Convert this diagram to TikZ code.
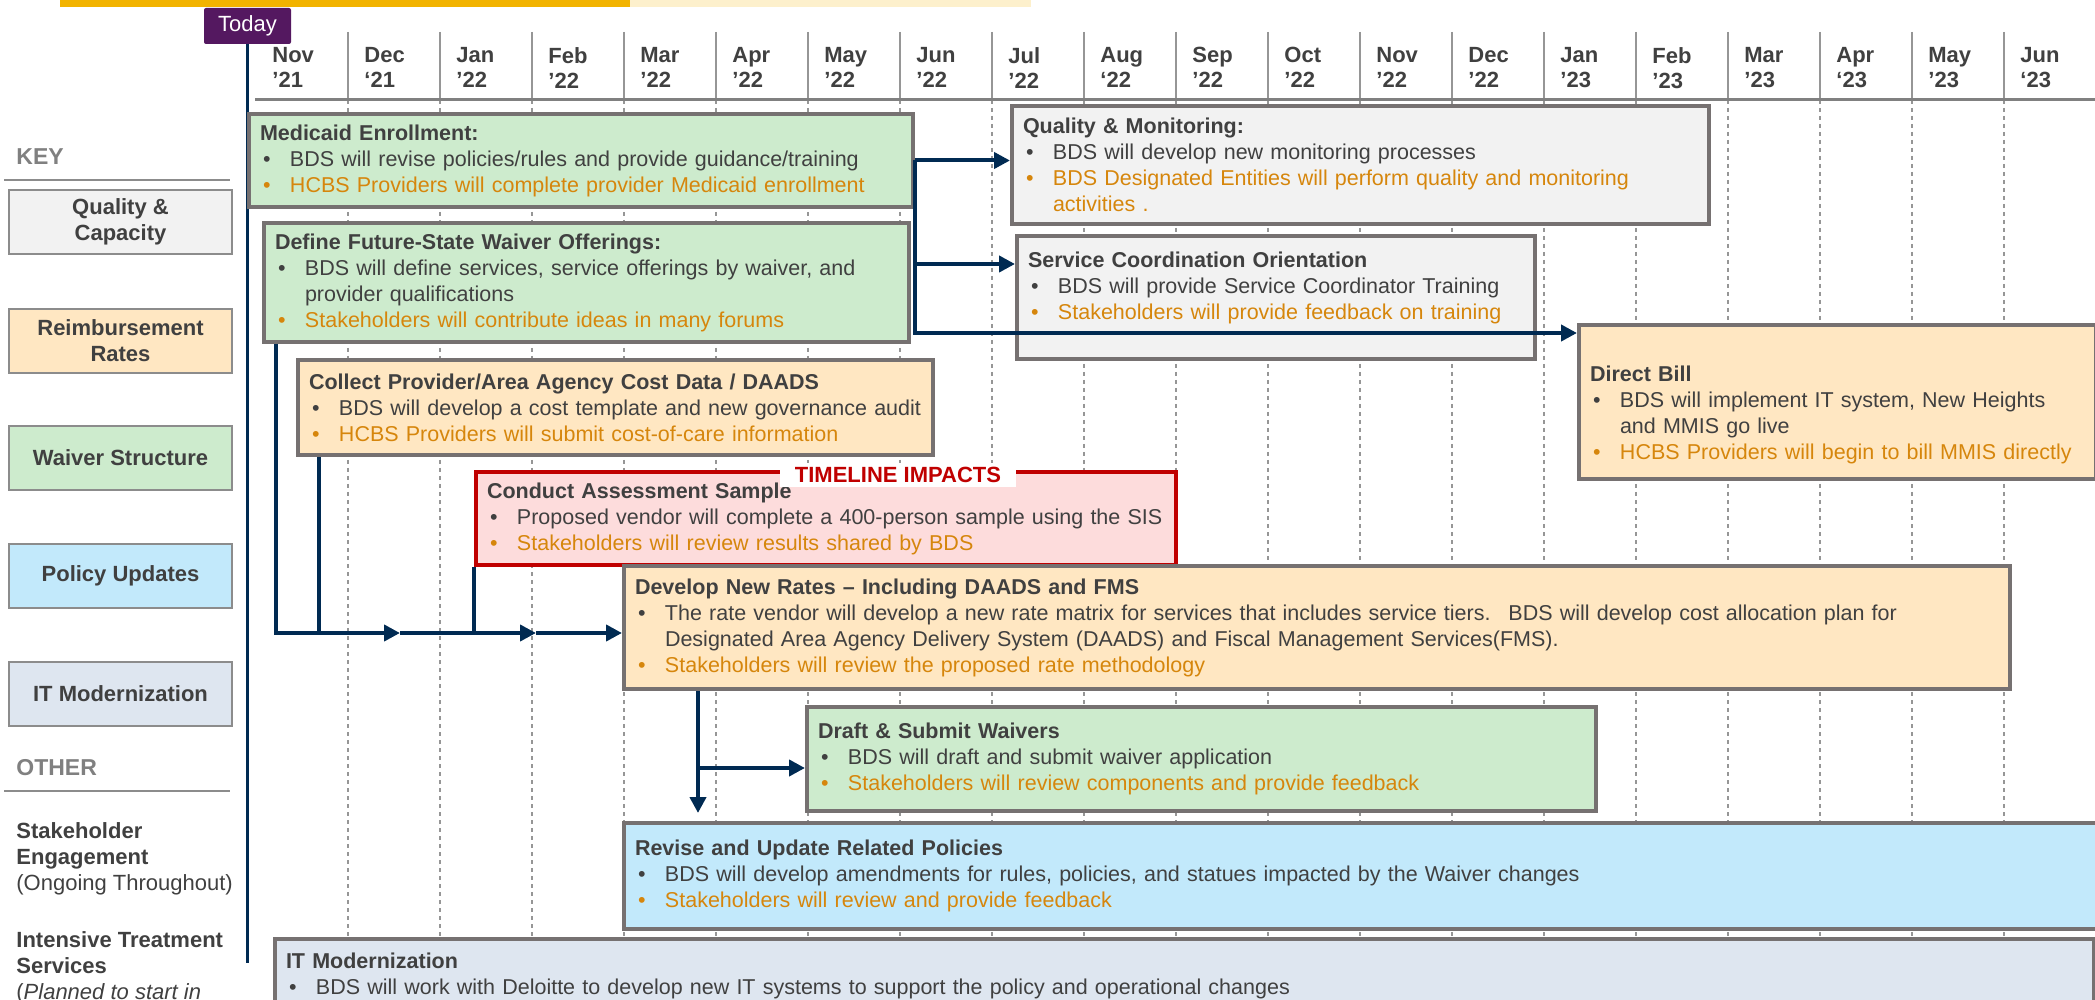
\documentclass[tikz,border=0pt]{standalone}
\usepackage{fontspec}
\setmainfont{Liberation Sans}
\usetikzlibrary{arrows.meta, positioning, calc}

\definecolor{txtgray}{RGB}{64,64,64}
\definecolor{ornge}{RGB}{214,134,12}
\definecolor{navy}{RGB}{0,42,82}
\definecolor{boxgray}{RGB}{118,113,113}
\definecolor{keyline}{RGB}{140,140,140}
\definecolor{headgray}{RGB}{128,128,128}
\definecolor{qualfill}{RGB}{242,242,242}
\definecolor{ratefill}{RGB}{255,231,194}
\definecolor{waivfill}{RGB}{205,235,205}
\definecolor{polfill}{RGB}{194,233,251}
\definecolor{itfill}{RGB}{222,230,240}
\definecolor{riskfill}{RGB}{253,220,220}
\definecolor{riskred}{RGB}{192,0,0}
\definecolor{todaypurple}{RGB}{84,24,96}
\definecolor{topgold}{RGB}{242,179,0}
\definecolor{toplight}{RGB}{253,240,204}
\definecolor{gridgray}{RGB}{150,150,150}

\newcommand{\ttl}[1]{\noindent{\bfseries #1}\par}
\newcommand{\itm}[1]{\hangindent=15pt\hangafter=1\noindent\makebox[15pt][l]{\hspace{1.5pt}\textbullet}#1\par}
\newcommand{\oitm}[1]{{\color{ornge}\itm{#1}}}

\tikzset{
    task/.style={rectangle, draw=boxgray, line width=2pt, anchor=north west, align=left, inner xsep=5.5pt, inner ysep=3pt, text=txtgray, font=\fontsize{10.75}{13}\selectfont},
    keybox/.style={rectangle, draw=keyline, line width=1pt, anchor=north west, align=center, minimum width=111.5pt, minimum height=32pt, text=txtgray, font=\fontsize{11}{13}\selectfont\bfseries},
    keyhead/.style={anchor=west, inner sep=0pt, text=headgray, font=\fontsize{11.5}{13}\selectfont\bfseries},
    other/.style={anchor=north west, inner sep=0pt, align=left, text=txtgray, font=\fontsize{11}{13}\selectfont},
    month/.style={anchor=north west, inner sep=0pt, align=left, text=txtgray, font=\fontsize{11}{12.5}\selectfont\bfseries},
    today/.style={rectangle, rounded corners=1pt, fill=todaypurple, text=white, minimum width=43.5pt, minimum height=18pt, inner sep=0pt, font=\fontsize{11}{13}\selectfont},
    impact/.style={rectangle, fill=white, text=riskred, minimum width=118pt, minimum height=12pt, inner sep=0pt, font=\fontsize{11}{13}\selectfont\bfseries},
    gridline/.style={draw=gridgray, line width=0.7pt, dash pattern=on 2pt off 2pt},
    hdrline/.style={draw=gridgray, line width=1pt},
    rail/.style={draw=navy, line width=2pt},
    link/.style={draw=navy, line width=2pt, -{Triangle[length=8pt,width=8pt]}}
}

\begin{document}
\begin{tikzpicture}[x=0.5pt, y=-0.5pt]
    \useasboundingbox (0,0) rectangle (2095,1000);
    \clip (0,0) rectangle (2095,1000);

    % top banner
    \fill[topgold] (60,0) rectangle (630,7);
    \fill[toplight] (630,0) rectangle (1031,7);

    % month grid
    \foreach \k in {0,...,18} {
        \draw[gridline] ({348+92*\k},100) -- ({348+92*\k},1000);
        \draw[hdrline] ({348+92*\k},32) -- ({348+92*\k},100);
    }
    \draw[draw=headgray, line width=1.5pt] (255,100) -- (2095,100);
    \foreach \m/\yr [count=\i from 0] in {Nov/’21, Dec/‘21, Jan/’22, Feb/’22, Mar/’22, Apr/’22, May/’22, Jun/’22, Jul/’22, Aug/‘22, Sep/’22, Oct/’22, Nov/’22, Dec/’22, Jan/’23, Feb/’23, Mar/’23, Apr/‘23, May/’23, Jun/‘23} {
        \node[month] (mon\i) at ({272+92*\i},47) {\m\\\yr};
    }

    % today marker
    \node[today] (today) at (247.5,26) {Today};
    \coordinate (axisend) at (247.5,963);
    \draw[navy, line width=1.5pt] (today.south) -- (axisend);

    % key column
    \node[keyhead] (keyhd) at (16,157) {KEY};
    \draw[keyline, line width=1pt] (4,180) -- (230,180);
    \node[keybox, fill=qualfill] (kqual) at (8,189) {Quality \&\\Capacity};
    \node[keybox, fill=ratefill] (krate) at (8,308) {Reimbursement\\Rates};
    \node[keybox, fill=waivfill] (kwaiv) at (8,425) {Waiver Structure};
    \node[keybox, fill=polfill] (kpol) at (8,543) {Policy Updates};
    \node[keybox, fill=itfill] (kit) at (8,661) {IT Modernization};
    \node[keyhead] (otherhd) at (16,768) {OTHER};
    \draw[keyline, line width=1pt] (4,791) -- (230,791);
    \node[other] (stake) at (16,822) {\textbf{Stakeholder}\\\textbf{Engagement}\\(Ongoing Throughout)};
    \node[other] (its) at (16,931) {\textbf{Intensive Treatment}\\\textbf{Services}\\(\textit{Planned to start in}};

    % quality boxes
    \node[task, fill=qualfill, text width=337.5pt, minimum height=59pt] (quality) at (1010,104) {%
        \ttl{Quality \& Monitoring:}
        \itm{BDS will develop new monitoring processes}
        \oitm{BDS Designated Entities will perform quality and monitoring\newline activities .}};
    \node[task, fill=qualfill, text width=248pt, minimum height=61.5pt] (service) at (1015,234) {%
        \ttl{Service Coordination Orientation}
        \itm{BDS will provide Service Coordinator Training}
        \oitm{Stakeholders will provide feedback on training}
        \vspace*{10pt}};
    \node[task, fill=ratefill, text width=247.5pt, minimum height=77pt] (directbill) at (1577,323) {%
        \ttl{\rule{0pt}{21pt}Direct Bill}
        \itm{BDS will implement IT system, New Heights\newline and MMIS go live}
        \oitm{HCBS Providers will begin to bill MMIS directly}};

    % waiver and rate boxes
    \node[task, fill=waivfill, text width=321pt, minimum height=46.5pt] (medicaid) at (247,112) {%
        \ttl{Medicaid Enrollment:}
        \itm{BDS will revise policies/rules and provide guidance/training}
        \oitm{HCBS Providers will complete provider Medicaid enrollment}};
    \node[task, fill=waivfill, text width=311.5pt, minimum height=59.5pt] (define) at (262,221) {%
        \ttl{Define Future-State Waiver Offerings:}
        \itm{BDS will define services, service offerings by waiver, and\newline provider qualifications}
        \oitm{Stakeholders will contribute ideas in many forums}};
    \node[task, fill=ratefill, text width=306.5pt, minimum height=47.5pt] (collect) at (296,358) {%
        \ttl{Collect Provider/Area Agency Cost Data / DAADS}
        \itm{BDS will develop a cost template and new governance audit}
        \oitm{HCBS Providers will submit cost-of-care information}};
    \node[task, draw=riskred, fill=riskfill, text width=339pt, minimum height=46.5pt] (assess) at (474,470) {%
        \ttl{Conduct Assessment Sample}
        \itm{Proposed vendor will complete a 400-person sample using the SIS}
        \oitm{Stakeholders will review results shared by BDS}};
    \node[impact] (impact) at (898,475) {TIMELINE IMPACTS};
    \node[task, fill=ratefill, text width=682pt, minimum height=61.5pt] (rates) at (622,564) {%
        \ttl{Develop New Rates – Including DAADS and FMS}
        \itm{The rate vendor will develop a new rate matrix for services that includes service tiers.~ BDS will develop cost allocation plan for\newline Designated Area Agency Delivery System (DAADS) and Fiscal Management Services(FMS).}
        \oitm{Stakeholders will review the proposed rate methodology}};
    \node[task, fill=waivfill, text width=383.5pt, minimum height=52pt] (draft) at (805,705) {%
        \ttl{Draft \& Submit Waivers}
        \itm{BDS will draft and submit waiver application}
        \oitm{Stakeholders will review components and provide feedback}};
    \node[task, fill=polfill, text width=739pt, minimum height=53pt] (revise) at (622,821) {%
        \ttl{Revise and Update Related Policies}
        \itm{BDS will develop amendments for rules, policies, and statues impacted by the Waiver changes}
        \oitm{Stakeholders will review and provide feedback}};
    \node[task, fill=itfill, text width=898.5pt, minimum height=37pt] (itmod) at (273,937) {%
        \ttl{IT Modernization}
        \itm{BDS will work with Deloitte to develop new IT systems to support the policy and operational changes}};

    % connectors on the right
    \coordinate (scin) at ([yshift=-15pt]service.north west);
    \coordinate (dbin) at ([yshift=-5pt]directbill.north west);
    \draw[link] (medicaid.east) -- (quality.west |- medicaid.east);
    \draw[link] (medicaid.east |- scin) -- (scin);
    \draw[link] (medicaid.east) |- (dbin);

    % connectors on the left
    \coordinate (tipA) at (400,633);
    \coordinate (tipB) at (536,633);
    \draw[link] ([xshift=7pt]define.south west) |- (tipA);
    \draw[rail] ([xshift=11.5pt]collect.south west) -- ([xshift=11.5pt]collect.south west |- tipA);
    \draw[rail] (assess.south west) -- (assess.south west |- tipA);
    \draw[link] (tipA) -- (tipB);
    \draw[link] (tipB) -- (rates.west |- tipB);

    % drop to waivers
    \coordinate (dropstart) at ([xshift=38pt]rates.south west);
    \coordinate (drin) at ([yshift=-31.5pt]draft.north west);
    \draw[link] (dropstart) -- (dropstart |- draft.south);
    \draw[link] (dropstart |- drin) -- (drin);
\end{tikzpicture}
\end{document}
